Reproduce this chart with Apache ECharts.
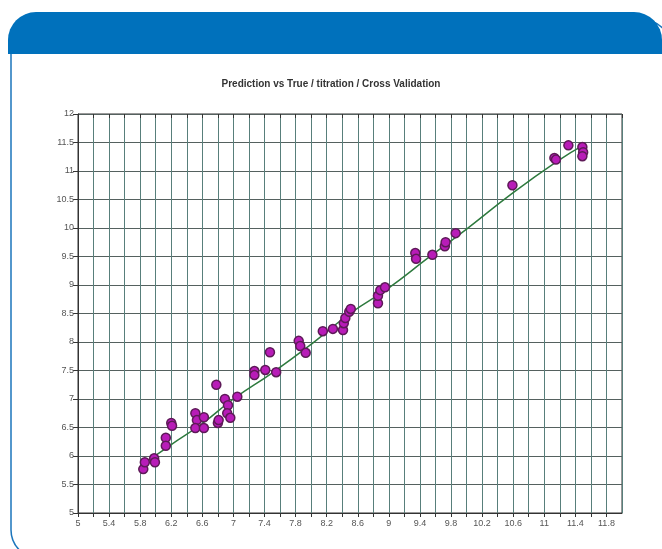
<!DOCTYPE html>
<html>
<head>
<meta charset="utf-8">
<script src="https://cdn.jsdelivr.net/npm/echarts@6/dist/echarts.min.js"></script>
<style>
  html, body { margin: 0; padding: 0; background: #fff; }
  #chart { width: 662px; height: 549px; }
</style>
</head>
<body>
<div id="chart"></div>
<script>
// chart title
let titleText = "Prediction vs True / titration / Cross Validation";

// scatter: true value (x) vs predicted (y)
let trueVals = [5.84, 5.86, 5.98, 5.99, 6.13, 6.13, 6.20, 6.21, 6.51, 6.53,
	6.51, 6.62, 6.62, 6.78, 6.80, 6.81, 6.89, 6.93, 6.92, 6.96,
	7.05, 7.27, 7.27, 7.41, 7.47, 7.55, 7.84, 7.86, 7.93, 8.15,
	8.28, 8.41, 8.42, 8.44, 8.49, 8.51, 8.86, 8.86, 8.89, 8.95,
	9.34, 9.35, 9.56, 9.72, 9.73, 9.86, 10.59, 11.13, 11.15, 11.31,
	11.49, 11.50, 11.49];
let predVals = [5.77, 5.89, 5.96, 5.89, 6.32, 6.18, 6.58, 6.53, 6.75, 6.63,
	6.49, 6.68, 6.49, 7.25, 6.58, 6.63, 7.00, 6.89, 6.75, 6.67,
	7.04, 7.49, 7.42, 7.51, 7.82, 7.47, 8.02, 7.93, 7.81, 8.19,
	8.23, 8.21, 8.33, 8.42, 8.53, 8.58, 8.68, 8.81, 8.91, 8.96,
	9.56, 9.46, 9.53, 9.68, 9.75, 9.91, 10.75, 11.23, 11.20, 11.45,
	11.42, 11.33, 11.26];

// fitted line
let fitX = [5.85, 6.2, 6.6, 7.0, 7.5, 8.0, 8.5, 9.0, 9.5, 10.0, 10.6, 11.2, 11.5];
let fitY = [5.87, 6.2, 6.57, 7.0, 7.46, 7.96, 8.5, 8.95, 9.47, 9.98, 10.62, 11.2, 11.45];

// axes
let axisMin = 5;
let axisMax = 12;
let xStep = 0.2;
let yStep = 0.5;

let scatterData = [];
for (let i = 0; i < trueVals.length; i++)
{
	scatterData.push([trueVals[i], predVals[i]]);
}
let lineData = [];
fitX.forEach((x, i) => {
	lineData.push([x, fitY[i]]);
});

var myChart = echarts.init(document.getElementById("chart"));

let labelFont = { fontFamily: "Liberation Sans", fontSize: 9, color: "#555" };

let option = {
	animation: false,
	backgroundColor: "#fff",
	graphic: [
		{
			type: "rect",
			z: -10,
			shape: { x: 11, y: 20, width: 660, height: 538, r: 28 },
			style: { fill: "#fff", stroke: "#1b75bc", lineWidth: 1.5 }
		},
		{
			type: "rect",
			z: -9,
			shape: { x: 8, y: 12, width: 654, height: 42, r: [28, 28, 0, 0] },
			style: { fill: "#0071bc" }
		}
	],
	title: {
		text: titleText,
		left: "center",
		top: 74,
		textStyle: { fontFamily: "Liberation Sans", fontSize: 10, fontWeight: "bold", color: "#333" }
	},
	grid: {
		left: 78,
		right: 40,
		top: 114,
		bottom: 36,
		show: true,
		borderColor: "#333",
		borderWidth: 1
	},
	xAxis: [
		{
			type: "value",
			min: axisMin,
			max: axisMax,
			interval: xStep,
			axisLine: { lineStyle: { color: "#333" } },
			axisTick: { show: true, length: 4, lineStyle: { color: "#333" } },
			axisLabel: Object.assign({
				margin: 6,
				showMaxLabel: false,
				formatter: function (v) {
					let k = Math.round((v - axisMin) / xStep);
					if (k % 2 !== 0) return "";
					return String(Math.round(v * 10) / 10);
				}
			}, labelFont),
			splitLine: { show: true, lineStyle: { color: "#587f7b", width: 1 } }
		},
		{
			type: "value",
			position: "top",
			min: axisMin,
			max: axisMax,
			interval: xStep,
			axisLine: { show: false },
			axisTick: { show: true, inside: true, length: 4, lineStyle: { color: "#333" } },
			axisLabel: { show: false },
			splitLine: { show: false }
		}
	],
	yAxis: {
		type: "value",
		min: axisMin,
		max: axisMax,
		interval: yStep,
		axisLine: { show: true, lineStyle: { color: "#333" } },
		axisTick: { show: true, length: 5, lineStyle: { color: "#333" } },
		axisLabel: Object.assign({ margin: 4 }, labelFont),
		splitLine: { show: true, lineStyle: { color: "#55615f", width: 1 } }
	},
	series: [
		{
			type: "line",
			data: lineData,
			showSymbol: false,
			smooth: true,
			z: 3,
			lineStyle: { color: "#2e7a3e", width: 1.5 }
		},
		{
			type: "scatter",
			data: scatterData,
			symbol: "circle",
			symbolSize: 9,
			z: 4,
			itemStyle: { color: "#b81cb8", borderColor: "#5e1a58", borderWidth: 1.5, opacity: 1 }
		}
	]
};

myChart.setOption(option);
</script>
</body>
</html>
